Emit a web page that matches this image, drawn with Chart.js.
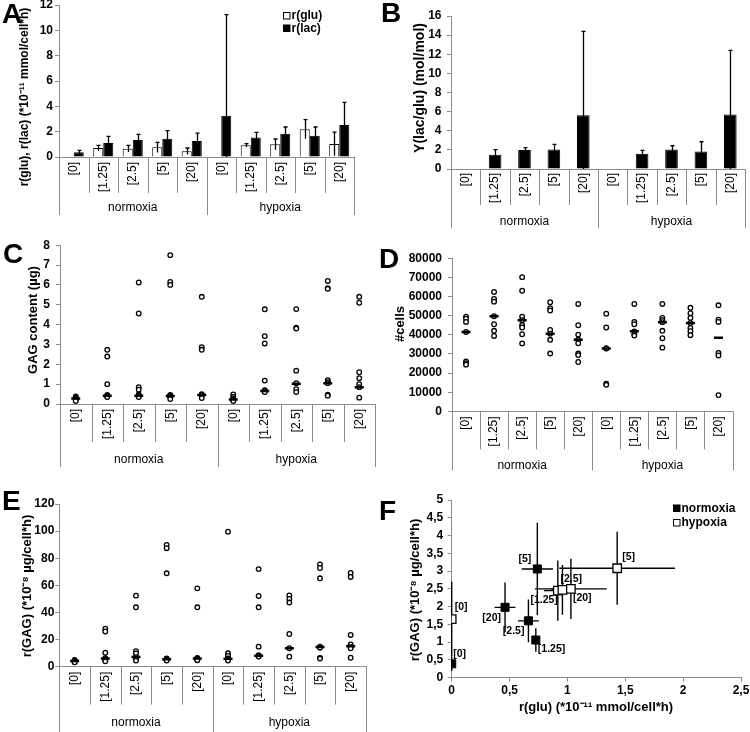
<!DOCTYPE html>
<html lang="en">
<head>
    <meta charset="UTF-8">
    <title>Glucose, lactate and GAG under normoxia / hypoxia</title>
    <script src="https://cdn.jsdelivr.net/npm/chart.js"></script>
    <style>
        body { margin: 0; background: #fff; }
        #fig { position: relative; width: 750px; height: 732px; overflow: hidden; background: #fff; }
        #fig canvas { position: absolute; }
    </style>
</head>
<body>
<div id="fig"></div>
<script>
    // categories
    const concentrations = ['[0]', '[1.25]', '[2.5]', '[5]', '[20]'];
    const conditions = ['normoxia', 'hypoxia'];

    // A: r(glu), r(lac) (*10^-11 mmol/cell*h), mean and SD
    const rGlu   = [0, 0.71, 0.66, 0.76, 0.45, 0, 0.92, 1.00, 2.20, 1.03];
    const rGluSd = [0, 0.21, 0.26, 0.40, 0.26, 0, 0.13, 0.42, 0.75, 0.94];
    const rLac   = [0.37, 1.10, 1.34, 1.45, 1.26, 3.26, 1.53, 1.84, 1.68, 2.53];
    const rLacSd = [0.16, 0.53, 0.45, 0.63, 0.63, 7.98, 0.42, 0.53, 0.69, 1.79];

    // B: Y(lac/glu) (mol/mol)
    const yLacGlu   = [0, 1.50, 1.98, 2.05, 5.63, 0, 1.60, 2.05, 1.84, 5.70];
    const yLacGluSd = [0, 0.52, 0.25, 0.52, 8.77, 0, 0.35, 0.38, 1.01, 6.70];

    // C: GAG content (µg), single samples + median
    const gagContent = [
        [0.38, 0.32, 0.28, 0.22, 0.15],
        [2.73, 2.39, 1.00, 0.45, 0.42, 0.38, 0.35],
        [6.12, 4.56, 0.85, 0.72, 0.48, 0.42, 0.35],
        [7.50, 6.15, 6.00, 0.45, 0.40, 0.36, 0.25],
        [5.40, 2.86, 2.73, 0.50, 0.45, 0.30],
        [0.48, 0.35, 0.25, 0.20, 0.15],
        [4.77, 3.42, 3.05, 1.18, 0.70, 0.66, 0.60],
        [4.78, 3.84, 3.80, 1.68, 1.05, 0.75, 0.60],
        [6.20, 5.84, 5.80, 1.20, 1.10, 1.05, 0.47, 0.42],
        [5.40, 5.10, 1.60, 1.30, 1.00, 0.85, 0.32]
    ];
    const gagMedian = [0.28, 0.42, 0.42, 0.40, 0.45, 0.23, 0.66, 1.02, 1.05, 0.85];

    // D: #cells
    const cellCount = [
        [49500, 48400, 46700, 41500, 26100, 25200, 24400],
        [62400, 58700, 57300, 49700, 45500, 42100, 39400],
        [70100, 63000, 49500, 47600, 45000, 43800, 40300, 35500],
        [57000, 53900, 52700, 42500, 40600, 37400, 30200],
        [56100, 45000, 40100, 37400, 35600, 30200, 29400, 25800],
        [51000, 43800, 33000, 32800, 14400, 13900],
        [56100, 46700, 45500, 41800, 40500, 39600],
        [56100, 48800, 47600, 46600, 42100, 38200, 33300],
        [54100, 51300, 48800, 46100, 43600, 41900, 39800],
        [55400, 47900, 46700, 30500, 29200, 8500]
    ];
    const cellMedian = [41500, 49700, 47600, 40600, 37400, 32900, 41800, 46600, 46100, 38400];

    // E: r(GAG) (*10^-8 µg/cell*h)
    const rGag = [
        [5.0, 4.5, 4.0, 3.5, 3.2],
        [28.0, 26.0, 10.3, 6.2, 5.0, 4.0],
        [52.4, 43.8, 11.5, 9.8, 7.0, 5.5, 4.5],
        [89.8, 87.4, 68.9, 6.0, 5.5, 5.0, 4.5],
        [57.8, 43.8, 6.5, 6.0, 5.0, 4.8],
        [99.6, 9.9, 7.9, 6.0, 5.0, 4.5],
        [72.0, 52.2, 43.8, 14.8, 8.5, 8.0, 7.5],
        [52.5, 50.0, 47.3, 24.1, 13.6, 7.4],
        [75.5, 72.8, 65.2, 14.8, 14.0, 6.5, 6.0],
        [69.2, 66.2, 23.4, 16.5, 14.5, 13.6, 6.6]
    ];
    const rGagMedian = [4.2, 6.0, 7.2, 5.5, 6.0, 5.8, 8.0, 13.6, 14.5, 15.0];

    // F: r(GAG) vs r(glu), mean and SD, order as concentrations
    const fGluNorm   = [0, 0.727, 0.663, 0.740, 0.461];
    const fGluNormSd = [0, 0.03, 0.09, 0.135, 0.09];
    const fGagNorm   = [0.39, 1.06, 1.60, 3.06, 1.98];
    const fGagNormSd = [0.20, 0.33, 0.60, 1.30, 0.70];
    const fGluHyp    = [0, 0.917, 0.957, 1.43, 1.03];
    const fGluHypSd  = [0, 0.12, 0.10, 0.50, 0.31];
    const fGagHyp    = [1.65, 2.45, 2.47, 3.08, 2.50];
    const fGagHypSd  = [1.05, 0.85, 0.70, 1.03, 0.85];

    // ---------- styling ----------
    const FONT = "'Liberation Sans', Arial, Helvetica, sans-serif";
    const AXIS = '#8c8c8c';
    Chart.defaults.font.family = FONT;
    Chart.defaults.color = '#000';

    const keys = conditions.flatMap(c => concentrations.map(k => c + ' ' + k));

    // text offsets of the point labels in F: [dx, dy, align]
    const fLabelNorm = [[1.5, -10, 'left'], [2, 9, 'left'], [-4, 10, 'right'], [-6, -10, 'right'], [-4, 11, 'right']];
    const fLabelHyp  = [[3, -11.5, 'left'], [0, 9, 'right'], [-2, -11, 'left'], [5, -11, 'left'], [2, 9.5, 'left']];

    function makeCanvas(box) {
        var c = document.createElement('canvas');
        c.width = box.w;
        c.height = box.h;
        c.style.left = box.x + 'px';
        c.style.top = box.y + 'px';
        document.getElementById('fig').appendChild(c);
        return c;
    }

    function write(ctx, s, x, y, font, align, rot) {
        ctx.save();
        ctx.translate(x, y);
        if (rot) ctx.rotate(rot);
        ctx.font = font;
        ctx.fillStyle = '#000';
        ctx.textAlign = align || 'center';
        ctx.textBaseline = 'middle';
        ctx.fillText(s, 0, 0);
        ctx.restore();
    }

    // letters, axis titles, category groups, legends
    function decor(box, d) {
        return {
            id: 'decor',
            afterDraw(chart) {
                const ctx = chart.ctx;
                if (d.groups) {
                    const s = chart.scales.x, n = keys.length, w = (s.right - s.left) / n, y0 = s.top;
                    ctx.save();
                    ctx.strokeStyle = AXIS;
                    ctx.lineWidth = 1;
                    for (let i = 0; i <= n; i++) {
                        const x = Math.round(s.left + i * w) + 0.5;
                        const len = i % concentrations.length === 0 ? d.groups.groupLen : d.groups.tickLen;
                        ctx.beginPath();
                        ctx.moveTo(x, y0);
                        ctx.lineTo(x, y0 + len);
                        ctx.stroke();
                    }
                    ctx.restore();
                    conditions.forEach((c, g) => {
                        write(ctx, c, s.left + (g * 5 + 2.5) * w, y0 + d.groups.labelOff, '12px ' + FONT);
                    });
                }
                ctx.save();
                ctx.translate(-box.x, -box.y);
                ctx.font = 'bold 28px ' + FONT;
                ctx.fillStyle = '#000';
                ctx.textAlign = 'left';
                ctx.textBaseline = 'alphabetic';
                ctx.fillText(d.letter[0], d.letter[1], d.letter[2]);
                if (d.yTitle) write(ctx, d.yTitle[0], d.yTitle[1], d.yTitle[2], 'bold ' + (d.yTitle[3] || 13) + 'px ' + FONT, 'center', -Math.PI / 2);
                if (d.xTitle) write(ctx, d.xTitle[0], d.xTitle[1], d.xTitle[2], 'bold 13px ' + FONT);
                if (d.legend) {
                    d.legend.items.forEach((it, i) => {
                        const lx = d.legend.x, ly = d.legend.y + i * d.legend.step;
                        ctx.fillStyle = it[1];
                        ctx.fillRect(lx, ly - 3.5, 7, 7);
                        ctx.strokeStyle = '#000';
                        ctx.lineWidth = 1;
                        ctx.strokeRect(lx + 0.5, ly - 3.5, 6.5, 6.5);
                        write(ctx, it[0], lx + 8.5, ly, 'bold 12px ' + FONT, 'left');
                    });
                }
                ctx.restore();
            }
        };
    }

    function errorBars(sets) {
        return {
            id: 'errorBars',
            afterDatasetsDraw(chart) {
                const ctx = chart.ctx, y = chart.scales.y;
                ctx.save();
                ctx.strokeStyle = '#000';
                ctx.lineWidth = 1.3;
                sets.forEach(([di, vals, sds]) => {
                    chart.getDatasetMeta(di).data.forEach((bar, i) => {
                        if (!sds[i]) return;
                        const x = Math.round(bar.x) + 0.5;
                        const top = y.getPixelForValue(vals[i] + sds[i]);
                        const bot = y.getPixelForValue(Math.max(vals[i] - sds[i], 0));
                        ctx.beginPath();
                        ctx.moveTo(x, bot);
                        ctx.lineTo(x, top);
                        ctx.moveTo(x - 2, top);
                        ctx.lineTo(x + 2, top);
                        ctx.stroke();
                    });
                });
                ctx.restore();
            }
        };
    }

    function catAxis(height, pad) {
        return {
            type: 'category',
            labels: keys,
            offset: true,
            grid: { display: false, drawTicks: false },
            border: { color: AXIS, width: 1 },
            ticks: {
                autoSkip: false, minRotation: 90, maxRotation: 90, padding: pad,
                font: { size: 12 }, color: '#000',
                callback: function (v) { return this.getLabelForValue(v).split(' ')[1]; }
            },
            afterFit: s => { s.height = height; }
        };
    }

    function valueAxis(width, min, max, step, pad, fmt) {
        return {
            min: min, max: max,
            grid: { drawOnChartArea: false, drawTicks: true, tickLength: 4, color: AXIS },
            border: { color: AXIS, width: 1 },
            ticks: { stepSize: step, padding: pad, font: { size: 12, weight: 'bold' }, color: '#000', callback: fmt || (v => String(v)) },
            afterFit: s => { s.width = width; }
        };
    }

    function baseOptions(pad, scales) {
        return {
            responsive: false, animation: false, devicePixelRatio: 1,
            layout: { padding: pad },
            plugins: { legend: { display: false }, tooltip: { enabled: false } },
            scales: scales
        };
    }

    // ---------- A ----------
    var boxA = { x: 0, y: -5, w: 375, h: 235 };
    new Chart(makeCanvas(boxA), {
        type: 'bar',
        data: {
            labels: keys,
            datasets: [
                { label: 'r(glu)', data: rGlu, backgroundColor: '#fff', borderColor: '#000', borderWidth: 1, categoryPercentage: 0.68, barPercentage: 1 },
                { label: 'r(lac)', data: rLac, backgroundColor: '#000', borderColor: '#000', borderWidth: 1, categoryPercentage: 0.68, barPercentage: 1 }
            ]
        },
        options: baseOptions({ top: 10, right: 21, left: 0, bottom: 0 }, {
            x: catAxis(73, 5),
            y: valueAxis(59, 0, 12, 2, 2)
        }),
        plugins: [errorBars([[0, rGlu, rGluSd], [1, rLac, rLacSd]]), decor(boxA, {
            letter: ['A', 2, 23],
            yTitle: ['r(glu), r(lac) (*10⁻¹¹ mmol/cell*h)', 25, 97, 12],
            groups: { tickLen: 36, groupLen: 58, labelOff: 51 },
            legend: { x: 283, y: 16, step: 12.5, items: [['r(glu)', '#fff'], ['r(lac)', '#000']] }
        })]
    });

    // ---------- B ----------
    var boxB = { x: 375, y: 0, w: 395, h: 240 };
    new Chart(makeCanvas(boxB), {
        type: 'bar',
        data: {
            labels: keys,
            datasets: [
                { label: 'Y(lac/glu)', data: yLacGlu, backgroundColor: '#000', borderColor: '#000', borderWidth: 1, categoryPercentage: 0.43, barPercentage: 1 }
            ]
        },
        options: baseOptions({ top: 16, right: 25, left: 0, bottom: 0 }, {
            x: catAxis(71, 4),
            y: valueAxis(76, 0, 16, 2, 5.5)
        }),
        plugins: [errorBars([[0, yLacGlu, yLacGluSd]]), decor(boxB, {
            letter: ['B', 381, 22],
            yTitle: ['Y(lac/glu) (mol/mol)', 420, 88, 14],
            groups: { tickLen: 36, groupLen: 59, labelOff: 53 }
        })]
    });

    // ---------- dot plots C, D, E ----------
    function dotPlot(box, pad, xH, yAxis, samples, medians, deco) {
        new Chart(makeCanvas(box), {
            type: 'scatter',
            data: {
                labels: keys,
                datasets: [
                    {
                        label: 'median',
                        data: medians.map((m, i) => ({ x: keys[i], y: m })),
                        pointStyle: 'line', pointRadius: 4.5, pointBorderWidth: 2.5,
                        pointBorderColor: '#000', pointBackgroundColor: '#000'
                    },
                    {
                        label: 'samples',
                        data: samples.flatMap((arr, i) => arr.map(v => ({ x: keys[i], y: v }))),
                        pointStyle: 'circle', pointRadius: 2.3, pointBorderWidth: 1.3,
                        pointBorderColor: '#000', pointBackgroundColor: '#fff'
                    }
                ]
            },
            options: baseOptions(pad, { x: catAxis(xH, 5), y: yAxis }),
            plugins: [decor(box, deco)]
        });
    }

    var boxC = { x: 0, y: 232, w: 390, h: 248 };
    dotPlot(boxC, { top: 10, right: 15, left: 0, bottom: 0 }, 76, valueAxis(60, 0, 8, 1, 6), gagContent, gagMedian, {
        letter: ['C', 3, 263],
        yTitle: ['GAG content (µg)', 33, 320],
        groups: { tickLen: 38, groupLen: 63, labelOff: 56 }
    });

    var boxD = { x: 375, y: 245, w: 395, h: 235 };
    dotPlot(boxD, { top: 10, right: 37.5, left: 0, bottom: 0 }, 68.6, valueAxis(77, 0, 80000, 10000, 6), cellCount, cellMedian, {
        letter: ['D', 379, 268],
        yTitle: ['#cells', 400, 324],
        groups: { tickLen: 38, groupLen: 59, labelOff: 54 }
    });

    var boxE = { x: 0, y: 485, w: 390, h: 247 };
    dotPlot(boxE, { top: 19, right: 24, left: 0, bottom: 0 }, 65.3, valueAxis(59.3, 0, 120, 20, 1), rGag, rGagMedian, {
        letter: ['E', 2, 510],
        yTitle: ['r(GAG) (*10⁻⁸ µg/cell*h)', 27, 586],
        groups: { tickLen: 38, groupLen: 66, labelOff: 56 }
    });

    // ---------- F ----------
    const comma = v => String(v).replace('.', ',');
    var boxF = { x: 375, y: 485, w: 395, h: 247 };
    const xyErr = {
        id: 'xyErr',
        beforeDatasetsDraw(chart) {
            const ctx = chart.ctx, sx = chart.scales.x, sy = chart.scales.y;
            ctx.save();
            ctx.strokeStyle = '#000';
            ctx.lineWidth = 1.4;
            [[fGluNorm, fGluNormSd, fGagNorm, fGagNormSd], [fGluHyp, fGluHypSd, fGagHyp, fGagHypSd]].forEach(([gx, gxe, gy, gye]) => {
                gx.forEach((v, i) => {
                    const px = sx.getPixelForValue(v), py = sy.getPixelForValue(gy[i]);
                    ctx.beginPath();
                    ctx.moveTo(sx.getPixelForValue(Math.max(v - gxe[i], 0)), py);
                    ctx.lineTo(sx.getPixelForValue(v + gxe[i]), py);
                    ctx.moveTo(px, sy.getPixelForValue(Math.max(gy[i] - gye[i], 0)));
                    ctx.lineTo(px, sy.getPixelForValue(gy[i] + gye[i]));
                    ctx.stroke();
                });
            });
            ctx.restore();
        },
        afterDatasetsDraw(chart) {
            const ctx = chart.ctx;
            [[0, fLabelNorm], [1, fLabelHyp]].forEach(([di, offs]) => {
                chart.getDatasetMeta(di).data.forEach((pt, i) => {
                    write(ctx, concentrations[i], pt.x + offs[i][0], pt.y + offs[i][1], 'bold 10.5px ' + FONT, offs[i][2]);
                });
            });
        }
    };
    const fx = valueAxis(0, 0, 2.5, 0.5, 2, comma);
    fx.type = 'linear';
    fx.afterFit = s => { s.height = 54.3; };
    new Chart(makeCanvas(boxF), {
        type: 'scatter',
        data: {
            datasets: [
                {
                    label: 'normoxia',
                    data: fGluNorm.map((v, i) => ({ x: v, y: fGagNorm[i] })),
                    pointStyle: 'rect', pointRadius: 5.7, pointBorderWidth: 1,
                    pointBorderColor: '#000', pointBackgroundColor: '#000'
                },
                {
                    label: 'hypoxia',
                    data: fGluHyp.map((v, i) => ({ x: v, y: fGagHyp[i] })),
                    pointStyle: 'rect', pointRadius: 6, pointBorderWidth: 1.3,
                    pointBorderColor: '#000', pointBackgroundColor: '#fff'
                }
            ]
        },
        options: baseOptions({ top: 15, right: 29, left: 0, bottom: 0 }, {
            x: fx,
            y: valueAxis(76.7, 0, 5, 0.5, 4.5, comma)
        }),
        plugins: [xyErr, decor(boxF, {
            letter: ['F', 379, 520],
            yTitle: ['r(GAG) (*10⁻⁸ µg/cell*h)', 415, 590],
            xTitle: ['r(glu) (*10⁻¹¹ mmol/cell*h)', 596, 707],
            legend: { x: 673, y: 508.5, step: 14.5, items: [['normoxia', '#000'], ['hypoxia', '#fff']] }
        })]
    });
</script>
</body>
</html>
